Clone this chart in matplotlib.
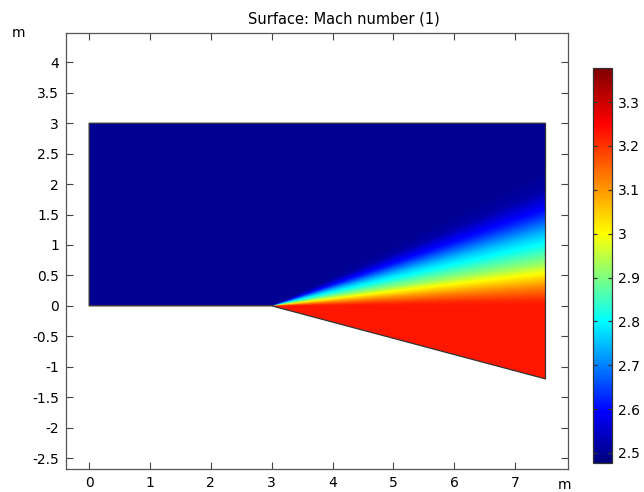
import matplotlib

matplotlib.use("Agg")

import matplotlib.pyplot as plt
import numpy as np
from matplotlib.colors import LinearSegmentedColormap
from matplotlib.patches import Polygon

# Flow domain: channel with a 15 degree expansion corner at x = 3 m
domain_x = [0.0, 3.0, 7.5, 7.5, 0.0]
domain_y = [0.0, 0.0, -1.2, 3.0, 3.0]
corner = (3.0, 0.0)

# Mach number across the expansion fan, by angle above the horizontal (deg)
fan_angle_deg = [-30.0, 0.0, 1.3, 3.9, 6.8, 8.8, 12.2, 14.9, 18.7, 22.9, 26.0, 180.0]
fan_mach = [3.23, 3.23, 3.21, 3.12, 3.00, 2.92, 2.82, 2.75, 2.62, 2.52, 2.50, 2.50]

cbar_min, cbar_max = 2.477, 3.378
cbar_ticks = [2.5, 2.6, 2.7, 2.8, 2.9, 3.0, 3.1, 3.2, 3.3]
x_ticks = [0, 1, 2, 3, 4, 5, 6, 7]
y_ticks = [-2.5, -2, -1.5, -1, -0.5, 0, 0.5, 1, 1.5, 2, 2.5, 3, 3.5, 4]

# rainbow table: navy -> blue -> cyan -> green -> yellow -> red -> dark red
rainbow = LinearSegmentedColormap.from_list(
    "rainbow_table",
    [
        (0.00, (0.0, 0.0, 0.48)),
        (0.13, (0.0, 0.0, 1.0)),
        (0.36, (0.0, 1.0, 1.0)),
        (0.47, (0.5, 1.0, 0.5)),
        (0.58, (1.0, 1.0, 0.0)),
        (0.86, (1.0, 0.0, 0.0)),
        (1.00, (0.5, 0.0, 0.0)),
    ],
)

plt.rcParams["font.family"] = "DejaVu Sans"
plt.rcParams["font.size"] = 10

fig = plt.figure(figsize=(6.44, 4.92), dpi=100)
ax = fig.add_axes([0.1025, 0.0467, 0.7795, 0.886])

# evaluate the field on a fine grid, then clip it to the domain outline
gx = np.linspace(min(domain_x), max(domain_x), 900)
gy = np.linspace(min(domain_y), max(domain_y), 600)
X, Y = np.meshgrid(gx, gy)
theta = np.degrees(np.arctan2(Y - corner[1], X - corner[0]))
mach = np.interp(theta, fan_angle_deg, fan_mach)

im = ax.imshow(
    mach,
    origin="lower",
    extent=(gx[0], gx[-1], gy[0], gy[-1]),
    cmap=rainbow,
    vmin=cbar_min,
    vmax=cbar_max,
    interpolation="bilinear",
    aspect="auto",
)
outline = Polygon(
    np.column_stack([domain_x, domain_y]),
    closed=True,
    facecolor="none",
    edgecolor="#333333",
    linewidth=0.9,
)
ax.add_patch(outline)
im.set_clip_path(outline)

ax.set_xlim(-0.38, 7.87)
ax.set_ylim(-2.68, 4.48)
ax.set_xticks(x_ticks)
ax.set_xticklabels([f"{v:g}" for v in x_ticks])
ax.set_yticks(y_ticks)
ax.set_yticklabels([f"{v:g}" for v in y_ticks])
ax.tick_params(direction="in", length=5, width=0.8, top=True, right=True,
               color="#444444", labelcolor="black", pad=5)
for spine in ax.spines.values():
    spine.set_color("#555555")
    spine.set_linewidth(0.9)

fig.text(0.534, 0.962, "Surface: Mach number (1)", ha="center", va="center",
         fontsize=10.5)
fig.text(0.028, 0.932, "m", ha="center", va="center")
fig.text(0.877, 0.015, "m", ha="center", va="center")

cax = fig.add_axes([0.921, 0.0589, 0.0295, 0.803])
cbar = fig.colorbar(im, cax=cax, ticks=cbar_ticks)
cbar.ax.set_yticklabels([f"{v:g}" for v in cbar_ticks])
cbar.ax.tick_params(direction="in", length=3, width=0.9, left=True, right=True,
                    color="#333333", pad=4)
cbar.outline.set_edgecolor("#333333")
cbar.outline.set_linewidth(0.9)

fig.savefig("out.png", dpi=100)
plt.close(fig)
